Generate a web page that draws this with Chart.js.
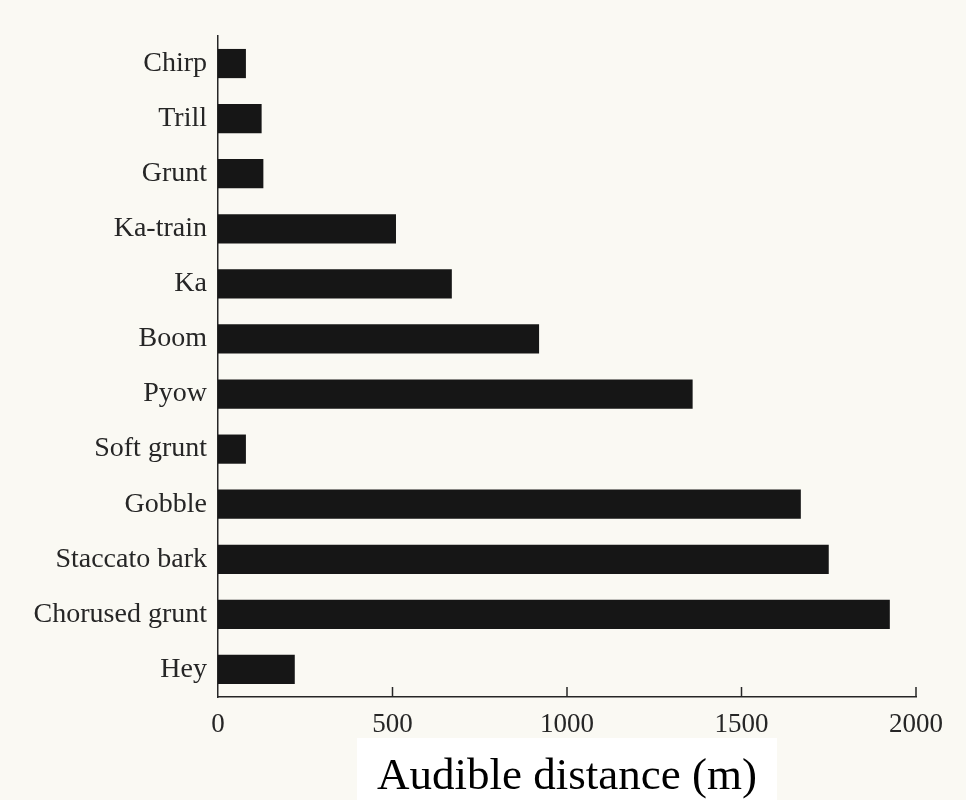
<!DOCTYPE html>
<html>
<head>
<meta charset="utf-8">
<script src="https://cdn.jsdelivr.net/npm/chart.js@4/dist/chart.umd.min.js"></script>
<style>
  html, body { margin: 0; padding: 0; background: #faf9f3; }
  #wrap { width: 966px; height: 800px; }
</style>
</head>
<body>
<div id="wrap"><canvas id="c" width="966" height="800"></canvas></div>
<script>
// ---- data ----
const categories = ['Chirp', 'Trill', 'Grunt', 'Ka-train', 'Ka', 'Boom', 'Pyow',
                    'Soft grunt', 'Gobble', 'Staccato bark', 'Chorused grunt', 'Hey'];
const distances  = [80, 125, 130, 510, 670, 920, 1360, 80, 1670, 1750, 1925, 220];
const xTickValues = [0, 500, 1000, 1500, 2000];
const xTitle = 'Audible distance (m)';

const SERIF = "'Liberation Serif', 'Times New Roman', serif";
const INK = '#262626';

const paperPlugin = {
  id: 'paper',
  beforeDraw(chart) {
    const ctx = chart.ctx;
    ctx.save();
    ctx.fillStyle = '#faf9f3';
    ctx.fillRect(0, 0, chart.width, chart.height);
    // white patch behind the axis title
    const xs = chart.scales.x;
    ctx.font = "45px " + SERIF;
    const w = ctx.measureText(xTitle).width;
    const cx = (xs.left + xs.right) / 2;
    ctx.fillStyle = '#ffffff';
    ctx.fillRect(cx - w / 2 - 20, xs.bottom - 62, w + 40, 62);
    ctx.restore();
  }
};

const innerTicksPlugin = {
  id: 'innerTicks',
  afterDraw(chart) {
    const xs = chart.scales.x;
    const ctx = chart.ctx;
    ctx.save();
    ctx.strokeStyle = INK;
    ctx.lineWidth = 1.5;
    xs.ticks.forEach(t => {
      if (t.value === 0) return;
      const px = xs.getPixelForValue(t.value);
      ctx.beginPath();
      ctx.moveTo(px, xs.top);
      ctx.lineTo(px, xs.top - 10);
      ctx.stroke();
    });
    ctx.restore();
  }
};

new Chart(document.getElementById('c'), {
  type: 'bar',
  data: {
    labels: categories,
    datasets: [{
      data: distances,
      backgroundColor: '#161616',
      borderWidth: 0,
      barPercentage: 0.53,
      categoryPercentage: 1.0
    }]
  },
  plugins: [paperPlugin, innerTicksPlugin],
  options: {
    indexAxis: 'y',
    responsive: false,
    devicePixelRatio: 1,
    animation: false,
    layout: { padding: { top: 36, right: 50, bottom: 0, left: 0 } },
    plugins: {
      legend: { display: false },
      tooltip: { enabled: false }
    },
    scales: {
      x: {
        type: 'linear',
        min: 0,
        max: 2000,
        afterBuildTicks(scale) {
          scale.ticks = xTickValues.map(v => ({ value: v }));
        },
        afterFit(scale) { scale.height = 103; },
        grid: { display: false, drawTicks: false },
        border: { display: true, color: INK, width: 1.5 },
        ticks: {
          padding: 12,
          color: INK,
          font: { family: SERIF, size: 27 },
          callback: (v) => String(v)
        },
        title: {
          display: true,
          text: xTitle,
          color: '#000000',
          font: { family: SERIF, size: 45, lineHeight: 1.0 },
          padding: { top: 0, bottom: 0 }
        }
      },
      y: {
        type: 'category',
        afterFit(scale) { scale.width = 218; },
        grid: { display: false, drawTicks: false },
        border: { display: true, color: INK, width: 1.5 },
        ticks: {
          padding: 11,
          color: INK,
          font: { family: SERIF, size: 28 }
        }
      }
    }
  }
});
</script>
</body>
</html>
